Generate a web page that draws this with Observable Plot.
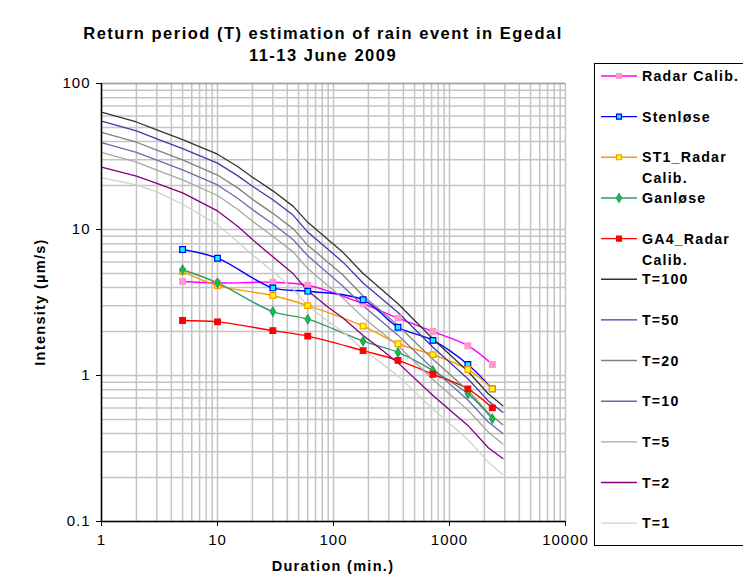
<!DOCTYPE html>
<html><head><meta charset="utf-8">
<script src="https://cdn.jsdelivr.net/npm/d3@7"></script>
<script src="https://cdn.jsdelivr.net/npm/@observablehq/plot@0.6"></script>
<style>
body{margin:0;background:#fff;}
#chart{position:relative;width:743px;height:577px;overflow:hidden;}
</style>
</head><body><div id="chart"></div>
<script>
// ---- Data ----
const titleLines = ["Return period (T) estimation of rain event in Egedal", "11-13 June 2009"];
const xLabel = "Duration (min.)";
const yLabel = "Intensity (µm/s)";
const xTicks = [1, 10, 100, 1000, 10000];
const yTicks = [0.1, 1, 10, 100];

// Return-period (IDF) curves
const durT = [1, 2, 3, 5, 10, 15, 20, 30, 45, 60, 90, 120, 180, 240, 360, 720, 1440, 2160, 2880];
const t100 = [63.6, 54.5, 48.2, 41.3, 32.8, 26.9, 22.8, 18.4, 14.4, 11.2, 8.5, 7.0, 5.0, 4.1, 3.1, 1.78, 1.07, 0.75, 0.62];
const t50  = [55.2, 47.3, 41.8, 35.8, 28.5, 23.3, 19.8, 16.0, 12.5, 9.6, 7.3, 6.0, 4.3, 3.55, 2.70, 1.56, 0.95, 0.67, 0.56];
const t20  = [46.2, 39.6, 35.0, 30.0, 23.6, 19.2, 16.1, 12.9, 10.1, 7.8, 5.95, 4.9, 3.5, 2.9, 2.2, 1.29, 0.79, 0.555, 0.46];
const t10  = [39.4, 33.8, 29.9, 25.6, 20.2, 16.3, 13.7, 10.9, 8.5, 6.6, 5.0, 4.1, 3.0, 2.48, 1.89, 1.11, 0.68, 0.48, 0.40];
const t5   = [33.7, 28.9, 25.5, 21.9, 17.1, 13.7, 11.4, 9.0, 7.0, 5.4, 4.1, 3.4, 2.5, 2.07, 1.6, 0.94, 0.58, 0.41, 0.34];
const t2   = [26.7, 23.2, 20.7, 17.8, 13.4, 10.5, 8.55, 6.5, 4.97, 3.8, 2.93, 2.49, 1.88, 1.58, 1.22, 0.73, 0.455, 0.32, 0.27];
const t1   = [22.7, 20.2, 18.1, 14.9, 10.8, 8.2, 6.7, 5.15, 3.9, 3.0, 2.34, 2.0, 1.5, 1.27, 0.99, 0.59, 0.364, 0.255, 0.21];
const tNames = ["T=100", "T=50", "T=20", "T=10", "T=5", "T=2", "T=1"];
const tValues = [t100, t50, t20, t10, t5, t2, t1];

// Observed events
const durObs = [5, 10, 30, 60, 180, 360, 720, 1440, 2340];
const radarCalib = [4.40, 4.30, 4.35, 4.15, 3.10, 2.47, 2.00, 1.60, 1.19];
const stenlose   = [7.30, 6.36, 3.98, 3.78, 3.30, 2.14, 1.74, 1.19, 0.81];
const st1Radar   = [5.16, 4.13, 3.53, 3.01, 2.18, 1.65, 1.39, 1.10, 0.81];
const ganlose    = [5.30, 4.31, 2.74, 2.43, 1.72, 1.44, 1.08, 0.75, 0.505];
const ga4Radar   = [2.38, 2.33, 2.03, 1.86, 1.48, 1.27, 1.02, 0.81, 0.60];
const obsNames = ["Radar Calib.", "Stenløse", "ST1_Radar Calib.", "Ganløse", "GA4_Radar Calib."];
const obsValues = [radarCalib, stenlose, st1Radar, ganlose, ga4Radar];

// ---- Styles ----
const obsStyle = [
  {line: "#ff00ff", fill: "#ff99cc", stroke: "#ff99cc", symbol: "square"},
  {line: "#0000ff", fill: "#00ffff", stroke: "#0000ff", symbol: "square"},
  {line: "#ff9900", fill: "#ffff00", stroke: "#ff9900", symbol: "square"},
  {line: "#339966", fill: "#00cc33", stroke: "#339966", symbol: "diamond"},
  {line: "#ff0000", fill: "#ff0000", stroke: "#ff0000", symbol: "square"}
];
const tColors = ["#333333", "#3c3ca8", "#808080", "#6a6aae", "#a6a6a6", "#800080", "#d0d0d0"];
const FONT = "'Liberation Sans', Arial, sans-serif";

// ---- Tables ----
const tRows = tNames.flatMap((name, i) => durT.map((d, j) => ({series: name, d, v: tValues[i][j]})));
const obsRows = obsNames.flatMap((name, i) => durObs.map((d, j) => ({series: name, d, v: obsValues[i][j]})));

// grid positions (all 1..9 multiples of each decade)
const xGrid = [];
for (let e = 0; e < 4; e++) for (let k = 1; k < 10; k++) xGrid.push(k * 10 ** e);
xGrid.push(10000);
const yGrid = [];
for (let e = -1; e < 2; e++) for (let k = 1; k < 10; k++) yGrid.push(+(k * 10 ** e).toPrecision(3));
yGrid.push(100);

const marks = [
  Plot.ruleX(xGrid, {stroke: "#c4c4c4", strokeWidth: 1.5}),
  Plot.ruleY(yGrid, {stroke: "#c4c4c4", strokeWidth: 1.5}),
  Plot.ruleY([100], {stroke: "#a0a0a0", strokeWidth: 1.5})
];
obsNames.forEach((name, i) => {
  const rows = obsRows.filter(r => r.series === name);
  marks.push(Plot.line(rows, {x: "d", y: "v", stroke: obsStyle[i].line, strokeWidth: 1.4, curve: "catmull-rom"}));
});
tNames.forEach((name, i) => {
  const rows = tRows.filter(r => r.series === name);
  marks.push(Plot.line(rows, {x: "d", y: "v", stroke: tColors[i], strokeWidth: 1.3}));
});
obsNames.forEach((name, i) => {
  const rows = obsRows.filter(r => r.series === name);
  const s = obsStyle[i];
  marks.push(Plot.dot(rows, {x: "d", y: "v", symbol: s.symbol, r: s.symbol === "diamond" ? 2.8 : 3.2,
    fill: s.fill, stroke: s.stroke, strokeWidth: 1.2}));
});
marks.push(
  Plot.ruleX([1], {stroke: "black", strokeWidth: 1.5}),
  Plot.ruleY([0.1], {stroke: "black", strokeWidth: 1.5}),
  Plot.axisX(xTicks, {tickSize: 5, tickPadding: 8, fontSize: 15, tickFormat: d => String(d), label: null, stroke: "black"}),
  Plot.axisY(yTicks, {tickSize: 5, tickPadding: 6, fontSize: 15, tickFormat: d => String(d), label: null, stroke: "black"})
);

const svg = Plot.plot({
  width: 743, height: 577,
  marginLeft: 101, marginRight: 178, marginTop: 83, marginBottom: 56,
  x: {type: "log", domain: [1, 10000]},
  y: {type: "log", domain: [0.1, 100]},
  style: {fontFamily: FONT, fontSize: "15px", background: "white", color: "black", overflow: "visible", letterSpacing: "1px"},
  marks
});

const root = d3.select(svg);
function txt(sel, size, ls, anchor) {
  return sel.attr("text-anchor", anchor).attr("font-family", FONT).attr("font-weight", "bold")
    .attr("font-size", size).style("letter-spacing", ls + "px");
}
// Title
txt(root.append("text").attr("x", 323).attr("y", 39), 16.5, 1.5, "middle").text(titleLines[0]);
txt(root.append("text").attr("x", 323).attr("y", 61), 16.5, 1.5, "middle").text(titleLines[1]);
// Axis titles
txt(root.append("text").attr("x", 333).attr("y", 571), 14.5, 1.3, "middle").text(xLabel);
txt(root.append("text").attr("transform", "translate(45,302) rotate(-90)"), 14.5, 1.3, "middle").text(yLabel);

// Legend
const lg = root.append("g");
lg.append("rect").attr("x", 594.5).attr("y", 63.5).attr("width", 170).attr("height", 482)
  .attr("fill", "white").attr("stroke", "black").attr("stroke-width", 1);
const legendLabels = [["Radar Calib."], ["Stenløse"], ["ST1_Radar", "Calib."], ["Ganløse"], ["GA4_Radar", "Calib."],
  ...tNames.map(n => [n])];
legendLabels.forEach((lines, i) => {
  const y = 76 + 40.65 * i;
  const isObs = i < obsNames.length;
  const color = isObs ? obsStyle[i].line : tColors[i - obsNames.length];
  lg.append("line").attr("x1", 601).attr("x2", 637).attr("y1", y).attr("y2", y)
    .attr("stroke", color).attr("stroke-width", 1.4);
  if (isObs) {
    const s = obsStyle[i];
    const sym = s.symbol === "diamond" ? d3.symbolDiamond : d3.symbolSquare;
    lg.append("path").attr("d", d3.symbol(sym, s.symbol === "diamond" ? 22 : 24)())
      .attr("transform", `translate(619,${y})`).attr("fill", s.fill).attr("stroke", s.stroke).attr("stroke-width", 1.2);
  }
  lines.forEach((t, k) => {
    txt(lg.append("text").attr("x", 642).attr("y", y + 5 + k * 21), 14.2, 1.2, "start").text(t);
  });
});

document.getElementById("chart").appendChild(svg);
</script>
</body></html>
